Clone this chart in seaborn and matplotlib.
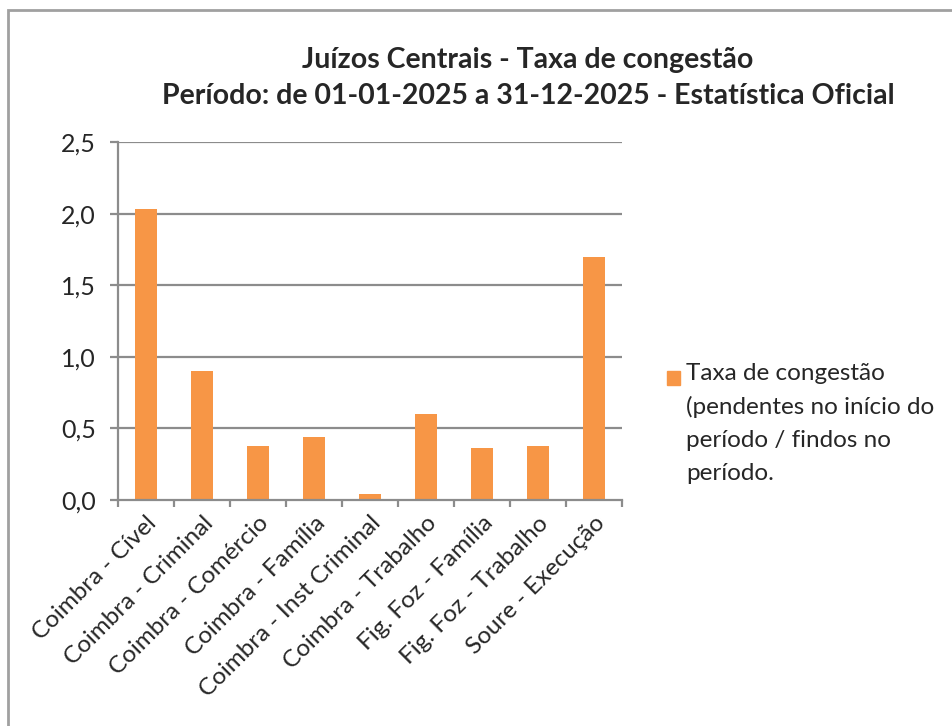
import matplotlib
matplotlib.use("Agg")
import matplotlib.pyplot as plt
import matplotlib.patches as mpatches
from matplotlib.ticker import FuncFormatter, FixedLocator
import seaborn as sns
import pandas as pd

categories = ["Coimbra - Cível", "Coimbra - Criminal", "Coimbra - Comércio",
              "Coimbra - Família", "Coimbra - Inst Criminal", "Coimbra - Trabalho",
              "Fig. Foz - Família", "Fig. Foz - Trabalho", "Soure - Execução"]
values = [2.03, 0.90, 0.38, 0.44, 0.04, 0.60, 0.36, 0.375, 1.70]
series_name = "Taxa de congestão\n(pendentes no início do\nperíodo / findos no\nperíodo."
title = "Juízos Centrais - Taxa de congestão\nPeríodo: de 01-01-2025 a 31-12-2025 - Estatística Oficial"
yticks = [0.0, 0.5, 1.0, 1.5, 2.0, 2.5]

sns.set_style("white")
plt.rcParams['font.family'] = ['Lato', 'DejaVu Sans']

df = pd.DataFrame({"cat": categories, "val": values})

W, H = 952, 726
DPI = 100
fig = plt.figure(figsize=(W / DPI, H / DPI), dpi=DPI)
ax = fig.add_axes([118 / W, 1 - 500 / H, (622 - 118) / W, (500 - 142) / H])

sns.barplot(data=df, x="cat", y="val", color="#F79646", width=0.4,
            saturation=1, ax=ax, edgecolor="none")

grid_c = "#8C8C8C"
ax.set_xlim(-0.5, len(categories) - 0.5)
ax.set_ylim(0, 2.5)
ax.set_yticks(yticks)
ax.yaxis.set_major_formatter(FuncFormatter(lambda v, p: f"{v:.1f}".replace(".", ",")))
for y in yticks[1:]:
    ax.axhline(y, color=grid_c, lw=1.6, zorder=0)

ax.set_xlabel("")
ax.set_ylabel("")
ax.set_xticks(range(len(categories)))
ax.set_xticklabels(categories, rotation=45, ha="right", va="top",
                   rotation_mode="anchor", fontsize=17.5)
ax.tick_params(axis="x", which="major", length=0, pad=9)
ax.xaxis.set_minor_locator(FixedLocator([i - 0.5 for i in range(len(categories) + 1)]))
ax.tick_params(axis="x", which="minor", length=5, width=1.6, color=grid_c, bottom=True)
ax.tick_params(axis="y", length=5.8, width=1.6, color=grid_c, labelsize=18, pad=10, left=True)

for s in ["top", "right"]:
    ax.spines[s].set_visible(False)
for s in ["left", "bottom"]:
    ax.spines[s].set_color(grid_c)
    ax.spines[s].set_linewidth(1.6)

fig.text(528 / W, 1 - 78 / H, title, ha="center", va="center",
         fontsize=20.5, fontweight="bold", linespacing=1.5)

handle = mpatches.Patch(color="#F79646", label=series_name)
leg = fig.legend(handles=[handle], loc="upper left", bbox_to_anchor=(667 / W, 1 - 363 / H),
                 frameon=False, fontsize=17.5, handlelength=0.52, handleheight=0.52,
                 handletextpad=0.28, borderaxespad=0, borderpad=0)
txt = leg.get_texts()[0]
txt.set_linespacing(1.68)

# align the legend square with the first line of the label (as in the source chart)
fig.canvas.draw()
r = fig.canvas.get_renderer()
tb = txt.get_window_extent(r)
patch = leg.get_patches()[0]
pb = patch.get_window_extent(r)
line_px = tb.height / 4.0
target_center = tb.y1 - line_px * 0.5
shift_px = target_center - (pb.y0 + pb.y1) / 2
patch.set_y(patch.get_y() + shift_px * 72 / DPI)

border = mpatches.Rectangle((7.5 / W, -0.1), 1.2, (H - 10) / H + 0.1,
                            transform=fig.transFigure, fill=False,
                            edgecolor="#A0A0A0", lw=2, clip_on=False)
fig.patches.append(border)

fig.savefig("out.png", dpi=DPI, facecolor="white")
